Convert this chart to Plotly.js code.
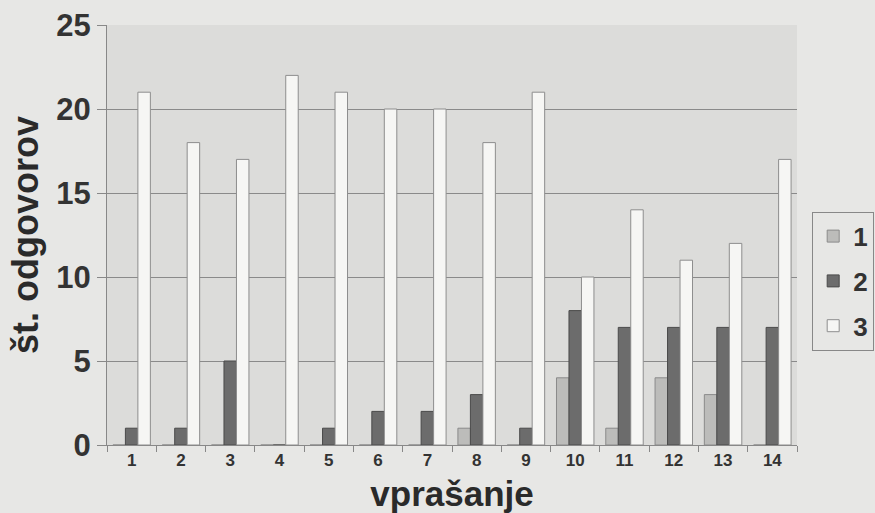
<!DOCTYPE html>
<html>
<head>
<meta charset="utf-8">
<script src="https://cdn.plot.ly/plotly-3.0.1.min.js"></script>
<style>html,body{margin:0;padding:0;background:#e7e7e5;}</style>
</head>
<body>
<div id="chart" style="width:875px;height:513px;"></div>
<script>
const categories = ["1","2","3","4","5","6","7","8","9","10","11","12","13","14"];
const series1 = [0,0,0,0,0,0,0,1,0,4,1,4,3,0];
const series2 = [1,1,5,0,1,2,2,3,1,8,7,7,7,7];
const series3 = [21,18,17,22,21,20,20,18,21,10,14,11,12,17];
const seriesNames = ["1","2","3"];
const yTicks = [0,5,10,15,20,25];

const font = "Liberation Sans, Arial, sans-serif";
const fills = ["#bcbcba","#6c6c6c","#f6f6f4"];
const lines = ["#8a8a8a","#4a4a4a","#8e8e8e"];
const data = [series1, series2, series3].map((vals, i) => ({
  type: "bar",
  name: seriesNames[i],
  x: categories,
  y: vals,
  legendgroup: "g" + i,
  marker: {color: fills[i], line: {color: lines[i], width: 1}}
}));

const layout = {
  width: 875, height: 513,
  margin: {l: 107, r: 78, t: 25, b: 68, autoexpand: false},
  paper_bgcolor: "#e7e7e5",
  plot_bgcolor: "#dcdcda",
  barmode: "group",
  bargap: 0.24,
  bargroupgap: 0,
  font: {family: font, color: "#333"},
  xaxis: {
    type: "category",
    tickson: "boundaries",
    ticks: "outside", ticklen: 6, tickcolor: "#888",
    showline: true, linecolor: "#888", linewidth: 1,
    tickfont: {size: 17, family: font, color: "#333", weight: "bold"},
    title: {text: "vprašanje", font: {size: 35, family: font, color: "#2a2a2a", weight: "bold"}, standoff: 15},
    showgrid: false
  },
  yaxis: {
    range: [0, 25],
    tickvals: yTicks,
    ticks: "outside", ticklen: 9, tickcolor: "#888",
    showline: true, linecolor: "#888", linewidth: 1,
    gridcolor: "#8a8a8a", gridwidth: 1,
    zeroline: false,
    tickfont: {size: 31, family: font, color: "#333", weight: "bold"},
    title: {text: "št. odgovorov", font: {size: 36, family: font, color: "#2a2a2a", weight: "bold"}, standoff: 6}
  },
  legend: {
    x: 1.022, xanchor: "left",
    y: 0.39, yanchor: "middle",
    bgcolor: "#e7e7e5", bordercolor: "#888", borderwidth: 1,
    font: {size: 26, family: font, color: "#333", weight: "bold"},
    tracegroupgap: 8,
    itemwidth: 30
  },
  showlegend: true
};

Plotly.newPlot("chart", data, layout, {displayModeBar: false, staticPlot: true});
</script>
</body>
</html>
